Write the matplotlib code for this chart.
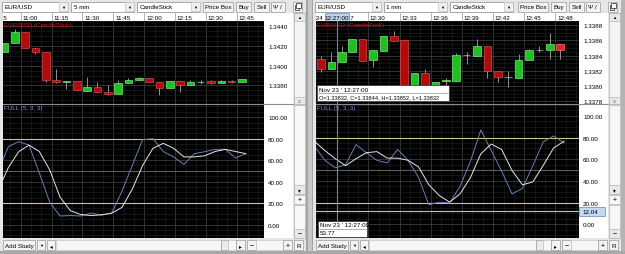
import numpy as np
import matplotlib.pyplot as plt
import matplotlib.transforms as mtransforms
from matplotlib.patches import Rectangle
from matplotlib.ticker import MultipleLocator

plt.rcParams['font.family'] = ['Liberation Sans', 'DejaVu Sans']

W, H = 625, 255

# left chart: EUR/USD 5 min, first candle 10:50
l_open = [1.34136, 1.34224, 1.34336, 1.34174, 1.34133, 1.33855, 1.33835, 1.33845,
          1.33743, 1.33788, 1.33737, 1.33717, 1.33829, 1.33852, 1.33875, 1.33835,
          1.33778, 1.33845, 1.33801, 1.33838, 1.33849, 1.33822, 1.33842, 1.33838]
l_close = [1.34227, 1.34336, 1.34174, 1.34133, 1.33852, 1.33835, 1.33845, 1.33750,
           1.33788, 1.33737, 1.33713, 1.33829, 1.33855, 1.33875, 1.33835, 1.33778,
           1.33845, 1.33801, 1.33835, 1.33840, 1.33822, 1.33849, 1.33840, 1.33862]
l_high = [1.34227, 1.34370, 1.34336, 1.34174, 1.34133, 1.33964, 1.33850, 1.33845,
          1.33889, 1.33840, 1.33801, 1.33852, 1.33880, 1.33889, 1.33875, 1.33835,
          1.33850, 1.33845, 1.33855, 1.33860, 1.33855, 1.33852, 1.33860, 1.33866]
l_low = [1.34136, 1.34224, 1.34174, 1.34122, 1.33840, 1.33822, 1.33760, 1.33750,
         1.33743, 1.33737, 1.33700, 1.33717, 1.33829, 1.33852, 1.33835, 1.33707,
         1.33778, 1.33730, 1.33801, 1.33818, 1.33815, 1.33822, 1.33820, 1.33838]
l_times = ['10:45', '11:00', '11:15', '11:30', '11:45', '12:00', '12:15', '12:30', '12:45']
l_time_idx = [-1, 2, 5, 8, 11, 14, 17, 20, 23]
l_price_ticks = [1.3380, 1.3400, 1.3420, 1.3440]
# stochastic FULL (5,3,3), one value per bar starting one bar before the first candle
l_k = [49, 72.5, 77.2, 74, 48, 21, 8, 8.4, 8, 10.7, 8.8, 10.7, 31, 55, 79, 80,
       68, 63, 56, 66, 67.8, 70, 70, 62, 66]
l_d = [32, 53, 67.8, 74, 68, 51, 25.7, 13, 9.4, 8.4, 9.1, 10.5, 16, 33, 55, 71,
       75.6, 71, 63, 63, 64, 68, 70, 68, 66]

# right chart: EUR/USD 1 min, first candle 12:25
r_open = [1.33835, 1.33822, 1.33832, 1.33844, 1.33862, 1.33834, 1.33846, 1.33865,
          1.33861, 1.33800, 1.33817, 1.33800, 1.33806, 1.33807, 1.33841, 1.33840,
          1.33853, 1.33820, 1.33812, 1.33811, 1.33834, 1.33847, 1.33847, 1.33855]
r_close = [1.33822, 1.33832, 1.33844, 1.33862, 1.33833, 1.33847, 1.33865, 1.33859,
           1.33800, 1.33817, 1.33800, 1.33805, 1.33808, 1.33841, 1.33841, 1.33853,
           1.33820, 1.33812, 1.33812, 1.33834, 1.33847, 1.33847, 1.33855, 1.33847]
r_high = [1.33840, 1.33844, 1.33852, 1.33862, 1.33862, 1.33847, 1.33865, 1.33872,
          1.33861, 1.33817, 1.33822, 1.33805, 1.33811, 1.33843, 1.33844, 1.33862,
          1.33853, 1.33820, 1.33820, 1.33842, 1.33849, 1.33853, 1.33869, 1.33855]
r_low = [1.33818, 1.33822, 1.33832, 1.33844, 1.33833, 1.33825, 1.33846, 1.33859,
         1.33800, 1.33800, 1.33800, 1.33800, 1.33800, 1.33807, 1.33829, 1.33840,
         1.33810, 1.33805, 1.33799, 1.33811, 1.33834, 1.33844, 1.33836, 1.33836]
r_times = ['12:24', '12:27', '12:30', '12:33', '12:36', '12:39', '12:42', '12:45', '12:48']
r_time_idx = [-1, 2, 5, 8, 11, 14, 17, 20, 23]
r_price_ticks = [1.3378, 1.3380, 1.3382, 1.3384, 1.3386, 1.3388]
r_k = [72, 59, 52, 55, 73.5, 66, 59, 56.5, 69, 59, 43.5, 18, 20.4, 19.7, 35, 58,
       87, 68, 49, 28, 33, 54, 76, 81.5, 75]
r_d = [76.5, 68, 60.5, 54, 60.5, 66, 67, 61, 61, 59, 53, 36.4, 26.5, 20.4, 28, 43,
       65, 74, 69, 49.6, 36.4, 39, 54.3, 70.4, 76.5]

cursor_idx = 2
cursor_date = "Nov 23 ' 12:27:00"
cursor_time = '12:27:00'
cursor_value = 53.77
cursor_level = 12.04

stoch_ticks = [0, 20, 40, 60, 80, 100]
stoch_levels = [20, 80]
stoch_mid = 50

TICK_OFF = -0.45    # time tick sits left of the candle centre
STOCH_OFF = 0.37    # indicator vertices sit right of the candle centre
FS = 4.5

fig = plt.figure(figsize=(W / 100, H / 100), dpi=100, facecolor='#bdbdbd')


def px_axes(x0, y0, x1, y1, **kw):
    return fig.add_axes([x0 / W, 1 - y1 / H, (x1 - x0) / W, (y1 - y0) / H], **kw)


ui = px_axes(0, 0, W, H)
ui.set_xlim(0, W)
ui.set_ylim(H, 0)
ui.axis('off')
ui.set_zorder(-1)

ov = px_axes(0, 0, W, H)
ov.set_xlim(0, W)
ov.set_ylim(H, 0)
ov.axis('off')
ov.set_zorder(5)


def box(ax, x0, y0, x1, y1, fc, ec='none', lw=0.5, z=1):
    ax.add_patch(Rectangle((x0, y0), x1 - x0, y1 - y0, fc=fc, ec=ec, lw=lw, zorder=z))


def txt(ax, x, y, s, size=FS, ha='left', color='black', z=3):
    ax.text(x, y, s, size=size, ha=ha, va='center', color=color, zorder=z)


def button(x0, x1, s, y0=2.5, y1=12.5, fc='#f3f3f3', size=FS):
    box(ui, x0, y0, x1, y1, fc, '#9a9a9a')
    if s:
        txt(ui, (x0 + x1) / 2, (y0 + y1) / 2 + 0.3, s, size=size, ha='center')


def chrome(x0, R, interval):
    box(ui, x0, 0, R, 252, '#e6e6e6')
    for a, b, s in [(2, 68, 'EUR/USD'), (71, 134, interval), (137, 200, 'CandleStick')]:
        box(ui, x0 + a, 2.5, x0 + b, 12.5, 'white', '#8c8c8c')
        box(ui, x0 + b - 9.5, 3, x0 + b - 0.5, 12, '#efefef', '#c4c4c4')
        txt(ui, x0 + b - 5, 7.8, '▼', size=3, ha='center')
        txt(ui, x0 + a + 2.5, 7.8, s)
    button(R - 103, R - 73, 'Price Box')
    button(R - 70, R - 55, 'Buy')
    button(R - 52, R - 37, 'Sell')
    button(R - 35, R - 21, '')
    txt(ui, R - 31, 7.8, 'Ψ', size=4.5, ha='center')
    txt(ui, R - 25, 7.8, '/', size=4.5, ha='center')
    button(R - 13, R - 4, '')
    box(ui, R - 11.5, 6.2, R - 7.2, 10.5, 'none', '#202020', z=2)
    box(ui, R - 9.6, 4.3, R - 5.4, 8.6, 'white', '#202020', z=2)
    # time row, price column, scroll column
    box(ui, x0 + 3, 13.5, R - 13, 22, 'white')
    box(ui, R - 42, 22, R - 13, 239, 'white')
    box(ui, R - 12, 14, R - 1, 105, '#f4f4f4', '#b4b4b4')
    box(ui, R - 12, 14, R - 1, 22, '#e8e8e8', '#b4b4b4')
    txt(ui, R - 6.5, 18.3, '▲', size=3, ha='center')
    box(ui, R - 12, 98, R - 1, 105, '#e8e8e8', '#b4b4b4')
    txt(ui, R - 6.5, 101.8, '≡', size=3.5, ha='center', color='#808080')
    box(ui, R - 12, 106, R - 1, 195, '#f7f7f7', '#b4b4b4')
    box(ui, R - 12, 186, R - 1, 195, '#e8e8e8', '#b4b4b4')
    txt(ui, R - 6.5, 190.5, '▾', size=4, ha='center')
    box(ui, R - 12, 196, R - 1, 205, '#f7f7f7', '#b4b4b4')
    txt(ui, R - 6.5, 200.5, '+', size=5, ha='center')
    box(ui, R - 12, 206, R - 1, 239, '#f7f7f7', '#b4b4b4')
    box(ui, R - 12, 230, R - 1, 239, '#e8e8e8', '#b4b4b4')
    txt(ui, R - 6.5, 234.5, '−', size=5, ha='center')
    # bottom bar
    button(x0 + 3, x0 + 35, 'Add Study', 241, 251)
    button(x0 + 37, x0 + 45, '▼', 241, 251, size=3)
    button(x0 + 47, x0 + 55, '◂', 241, 251, size=4)
    box(ui, x0 + 56, 241, R - 85, 251, '#f7f7f7', '#c8c8c8')
    button(R - 85, R - 78, '', 241, 251, fc='#ececec')
    box(ui, R - 78, 241, R - 70, 251, '#f7f7f7', '#c8c8c8')
    button(R - 70, R - 61, '▸', 241, 251, size=4)
    button(R - 59, R - 50, '−', 241, 251, size=5)
    box(ui, R - 50, 241, R - 23, 251, '#f7f7f7', '#c8c8c8')
    button(R - 23, R - 14, '+', 241, 251, size=5)
    button(R - 12, R - 3, 'R', 241, 251)


def candles(ax, o, c, h, l, live_last=False):
    o, c, h, l = map(np.asarray, (o, c, h, l))
    x = np.arange(len(o))
    up = c > o
    doji = np.isclose(c, o)
    body = np.where(up, '#1fc01f', '#b00c0c').astype(object)
    edge = np.where(up, '#8af08a', '#e05050').astype(object)
    edge[doji] = '#c8c8c8'
    if live_last:
        body[-1] = '#f02020'
        edge[-1] = '#ff8080'
    ax.vlines(x, l, h, color='#a8a8a8', lw=0.6, zorder=2)
    ax.bar(x, c - o, bottom=o, width=0.72, color=list(body), edgecolor=list(edge),
           lw=0.45, zorder=3)


def chart(x0, R, o, c, h, l, kv, dv, xlim, plim, pticks, pminor, slim,
          times, time_idx, live_last=False):
    cl, cr = x0 + 3, R - 42
    axp = px_axes(cl, 22, cr, 104.5)
    axs = px_axes(cl, 104.5, cr, 239, sharex=axp)
    axt = px_axes(cl, 14, cr, 22, sharex=axp)
    for ax in (axp, axs, axt):
        ax.set_zorder(1)
        for sp in ax.spines.values():
            sp.set_visible(False)
    axt.set_facecolor('white')
    for ax in (axp, axs):
        ax.set_facecolor('black')

    tpos = np.asarray(time_idx) + TICK_OFF
    axp.set_xticks(tpos)
    axp.xaxis.set_minor_locator(MultipleLocator(1, offset=1 + TICK_OFF))
    axp.set_xlim(xlim)
    for ax in (axp, axs, axt):
        ax.tick_params(axis='x', which='both', length=0, labelbottom=False)
    axt.set_yticks([])
    axt.tick_params(axis='y', length=0)

    axp.set_ylim(plim)
    axp.set_yticks(pticks)
    axp.set_yticklabels([f'{v:.4f}' for v in pticks])
    axp.yaxis.set_minor_locator(MultipleLocator(pminor))
    axs.set_ylim(slim)
    axs.set_yticks(stoch_ticks)
    axs.set_yticklabels([f'{v:.2f}' for v in stoch_ticks])
    axs.yaxis.set_minor_locator(MultipleLocator(5))
    for ax in (axp, axs):
        ax.yaxis.tick_right()
        ax.tick_params(axis='y', which='both', length=0, pad=2.9, labelsize=FS,
                       labelcolor='black')
        ax.grid(which='minor', color='#1d2424', lw=0.4)
        ax.grid(which='major', color='#474747', lw=0.5)
        ax.set_axisbelow(True)

    candles(axp, o, c, h, l, live_last)
    axp.annotate('EUR/USD (CandleStick)', xy=(0, 1), xycoords='axes fraction',
                 xytext=(1, -1), textcoords='offset pixels', va='top', ha='left',
                 color='#c81818', size=FS)

    sx = np.arange(-1, len(kv) - 1) + STOCH_OFF
    for lv in stoch_levels:
        axs.axhline(lv, color='#c8c88a', lw=0.8, zorder=1.5)
    axs.axhline(stoch_mid, color='#5c5c5c', lw=0.8, zorder=1.5)
    axs.plot(sx, kv, color='#6c7eb6', lw=0.7, zorder=3)
    axs.plot(sx, dv, color='#e6e6e6', lw=0.7, zorder=3)
    axs.annotate('FULL (5, 3, 3)', xy=(0, 1), xycoords='axes fraction',
                 xytext=(1, -1.5), textcoords='offset pixels', va='top', ha='left',
                 color='#8494cc', size=FS)

    tr = mtransforms.offset_copy(axt.get_xaxis_transform(), fig=fig, x=1.5, units='dots')
    for t, s in zip(tpos, times):
        axt.axvline(t, color='#a8a8a8', lw=0.6)
        axt.text(t, 0.5, s, transform=tr, size=FS, va='center', ha='left', clip_on=True)

    ov.plot([cl, R - 13], [104.5, 104.5], color='#8c8c8c', lw=0.8)
    return axp, axs, axt


chrome(0, 306, '5 min')
chrome(313, 621, '1 min')
box(ui, 306, 0, 313, 255, '#a4a4a4')
box(ui, 307.5, 0, 311.5, 255, '#c8c8c8')
box(ui, 621, 0, 625, 255, '#b4b4b4')
box(ui, 0, 252, 625, 255, '#a8a8a8')

chart(0, 306, l_open, l_close, l_high, l_low, l_k, l_d,
      (-0.145, 25.12), (1.33618, 1.34451), l_price_ticks, 0.0005, (-12.5, 112.7),
      l_times, l_time_idx)

axp, axs, axt = chart(313, 621, r_open, r_close, r_high, r_low, r_k, r_d,
                      (-0.48, 24.81), (1.33777, 1.338853), r_price_ticks, 0.00005,
                      (-12.7, 111.4), r_times, r_time_idx, live_last=True)

# crosshair on the right chart
cx = cursor_idx + TICK_OFF
axp.axvline(cx, color='#7086ac', lw=0.8, zorder=4)
axs.axvline(cx, color='#7086ac', lw=0.8, zorder=4)
axs.axhline(cursor_level, color='#a6c4ec', lw=0.8, zorder=4)
axt.add_patch(Rectangle((cx - 1.15, 0.04), 2.3, 0.92, transform=axt.get_xaxis_transform(),
                        fc='#bcd4ee', ec='#5f86c0', lw=0.5, zorder=4))
axt.text(cx, 0.5, cursor_time, transform=axt.get_xaxis_transform(), size=FS,
         ha='center', va='center', zorder=5)
ybt = axs.get_yaxis_transform()
axs.add_patch(Rectangle((1.0, cursor_level - 4.0), 0.1, 8.0, transform=ybt,
                        fc='#c4daf2', ec='#5f86c0', lw=0.5, zorder=6, clip_on=False))
axs.text(1.012, cursor_level, f'{cursor_level:.2f}', transform=ybt, size=FS,
         ha='left', va='center', zorder=7, clip_on=False)

ohlc = (f'O={r_open[cursor_idx]:.5f}, C={r_close[cursor_idx]:.5f}, '
        f'H={r_high[cursor_idx]:.5f}, L={r_low[cursor_idx]:.5f}')
box(ov, 317, 86, 449, 102, 'white', '#303030', z=6)
ov.plot([317, 449], [94, 94], color='#909090', lw=0.5, zorder=7)
txt(ov, 319, 90.2, cursor_date, z=8)
txt(ov, 319, 98.2, ohlc, size=4.1, z=8)
box(ov, 318, 221.5, 367, 237.5, 'white', '#303030', z=6)
ov.plot([318, 367], [229.5, 229.5], color='#909090', lw=0.5, zorder=7)
txt(ov, 320, 225.7, cursor_date, z=8)
txt(ov, 320, 233.7, f'{cursor_value:.2f}', z=8)

fig.savefig('out.png', dpi=100, facecolor=fig.get_facecolor())
